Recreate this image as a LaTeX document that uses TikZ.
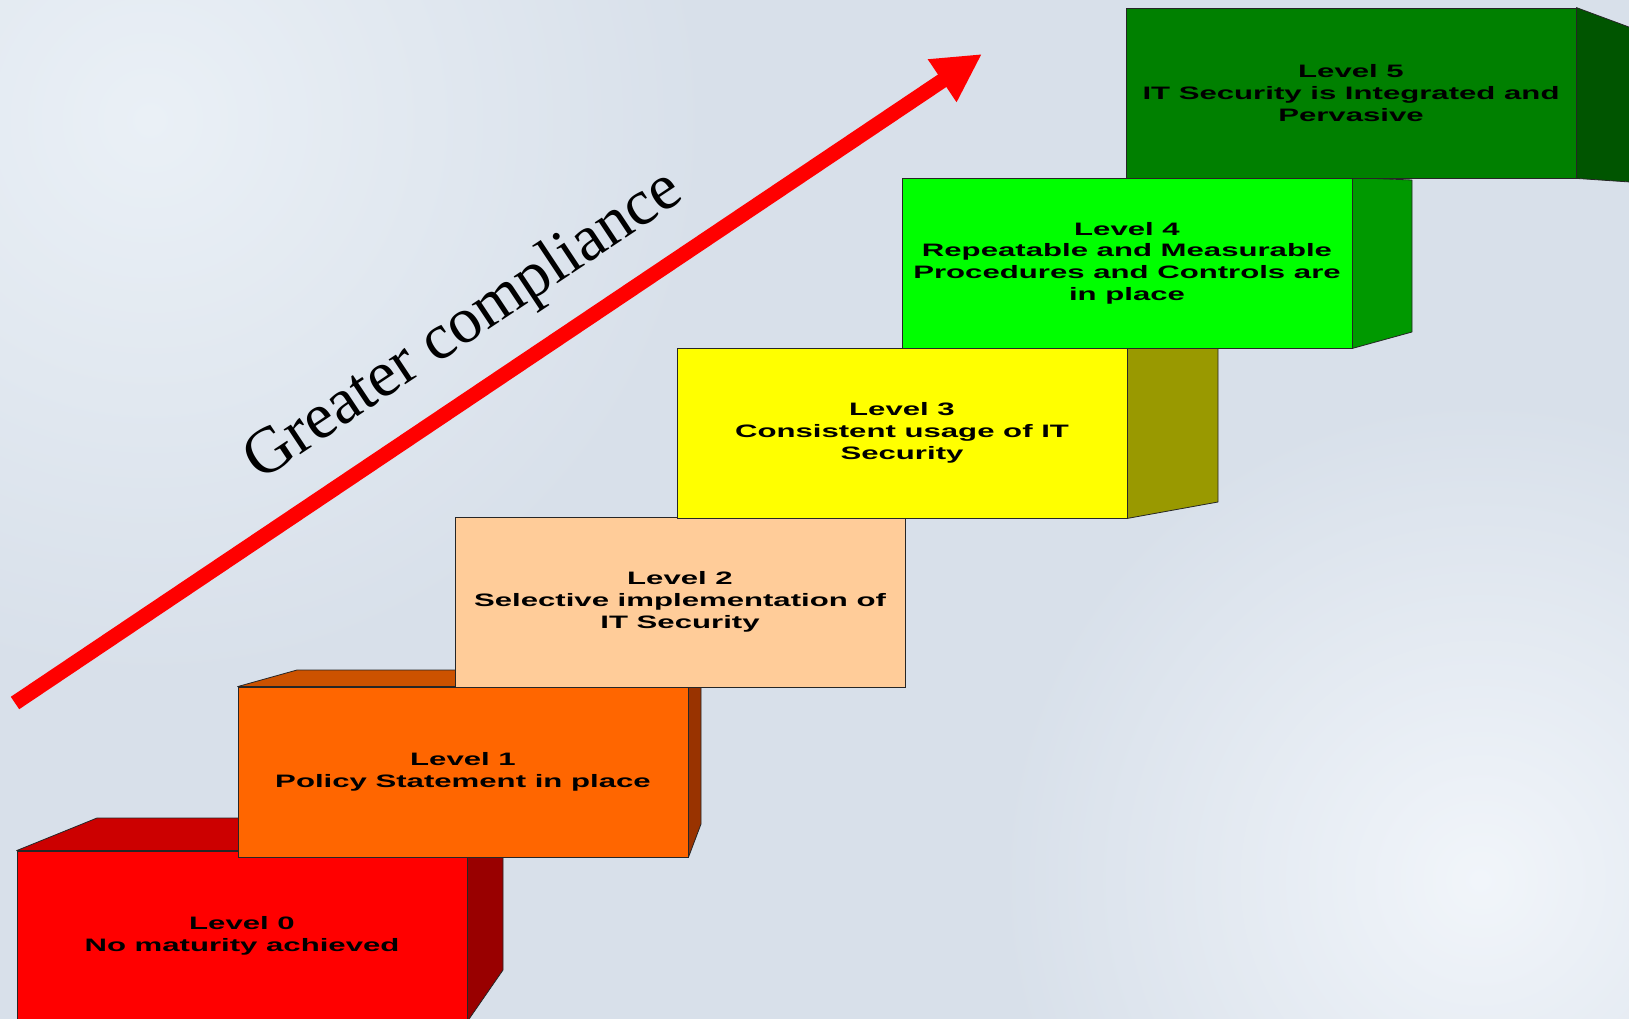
\documentclass[tikz,border=0pt]{standalone}
\usepackage{fontspec}
\usepackage[]{xcolor}
\usetikzlibrary{arrows.meta}

\newfontfamily\levelfont{Liberation Sans Bold}[FakeStretch=1.73]
\newfontfamily\risefont{Liberation Serif}

\definecolor{bgbase}{RGB}{216,224,234}
\definecolor{bglight}{RGB}{234,240,246}
\definecolor{bgwhite}{RGB}{241,245,250}
\definecolor{lvlzero}{HTML}{FF0000}
\definecolor{lvlzerotop}{HTML}{CC0000}
\definecolor{lvlzeroside}{HTML}{990000}
\definecolor{lvlone}{HTML}{FF6600}
\definecolor{lvlonetop}{HTML}{CC5200}
\definecolor{lvloneside}{HTML}{993300}
\definecolor{lvltwo}{HTML}{FFCC99}
\definecolor{lvlthree}{HTML}{FFFF00}
\definecolor{lvlthreeside}{HTML}{999900}
\definecolor{lvlfour}{HTML}{00FF00}
\definecolor{lvlfourside}{HTML}{009900}
\definecolor{lvlfive}{HTML}{008000}
\definecolor{lvlfiveside}{HTML}{005500}

\begin{document}
\begin{tikzpicture}[
            x=1pt, y=-1pt,
            levelbox/.style={rectangle, draw=black!85, line width=0.8pt, minimum width=450pt, minimum height=170pt, inner sep=0pt, align=center, font=\levelfont\fontsize{18}{21.7}\selectfont},
            face/.style={draw=black!85, line width=0.8pt, line join=round},
            rise/.style={-{Triangle[length=48pt, width=48pt]}, line width=15pt, draw=red}
        ]
            \clip (0,0) rectangle (1629,1019);
            \fill[bgbase] (0,0) rectangle (1629,1019);
            \shade[inner color=bglight, outer color=bgbase] (150,120) circle (560pt);
            \shade[inner color=bgwhite, outer color=bgbase] (1480,880) circle (480pt);

            \node[levelbox, fill=lvlzero] (L0) at (242,936) {Level 0\\No maturity achieved};
            \filldraw[face, fill=lvlzerotop] (L0.north west) -- (97,818) -- (503,818) -- (L0.north east) -- cycle;
            \filldraw[face, fill=lvlzeroside] (L0.north east) -- (503,818) -- (503,970) -- (L0.south east) -- cycle;

            \node[levelbox, fill=lvlone] (L1) at (463,772) {Level 1\\Policy Statement in place};
            \filldraw[face, fill=lvlonetop] (L1.north west) -- (297,670) -- (701,670) -- (L1.north east) -- cycle;
            \filldraw[face, fill=lvloneside] (L1.north east) -- (701,670) -- (701,824) -- (L1.south east) -- cycle;

            \node[levelbox, fill=lvltwo] (L2) at (680,602) {Level 2\\Selective implementation of\\IT Security};

            \node[levelbox, fill=lvlthree] (L3) at (902,433) {Level 3\\Consistent usage of IT\\Security};
            \filldraw[face, fill=lvlthreeside] (L3.north east) -- (1218,345) -- (1218,502) -- (L3.south east) -- cycle;

            \node[levelbox, fill=lvlfour] (L4) at (1127,263) {Level 4\\Repeatable and Measurable\\Procedures and Controls are\\in place};
            \filldraw[face, fill=lvlfourside] (L4.north east) -- (1412,180) -- (1412,332) -- (L4.south east) -- cycle;

            \node[levelbox, fill=lvlfive] (L5) at (1351,93) {Level 5\\IT Security is Integrated and\\Pervasive};
            \filldraw[face, fill=lvlfiveside] (L5.north east) -- (1645,33) -- (1645,183) -- (L5.south east) -- cycle;

            \coordinate (tail) at (15,703);
            \coordinate (tip) at (982,54);
            \draw[rise] (tail) -- (tip);
            \node[rotate=33.6, anchor=base, font=\risefont\fontsize{65}{70}\selectfont] (riselabel) at (473,340) {Greater compliance};
        \end{tikzpicture}
\end{document}
